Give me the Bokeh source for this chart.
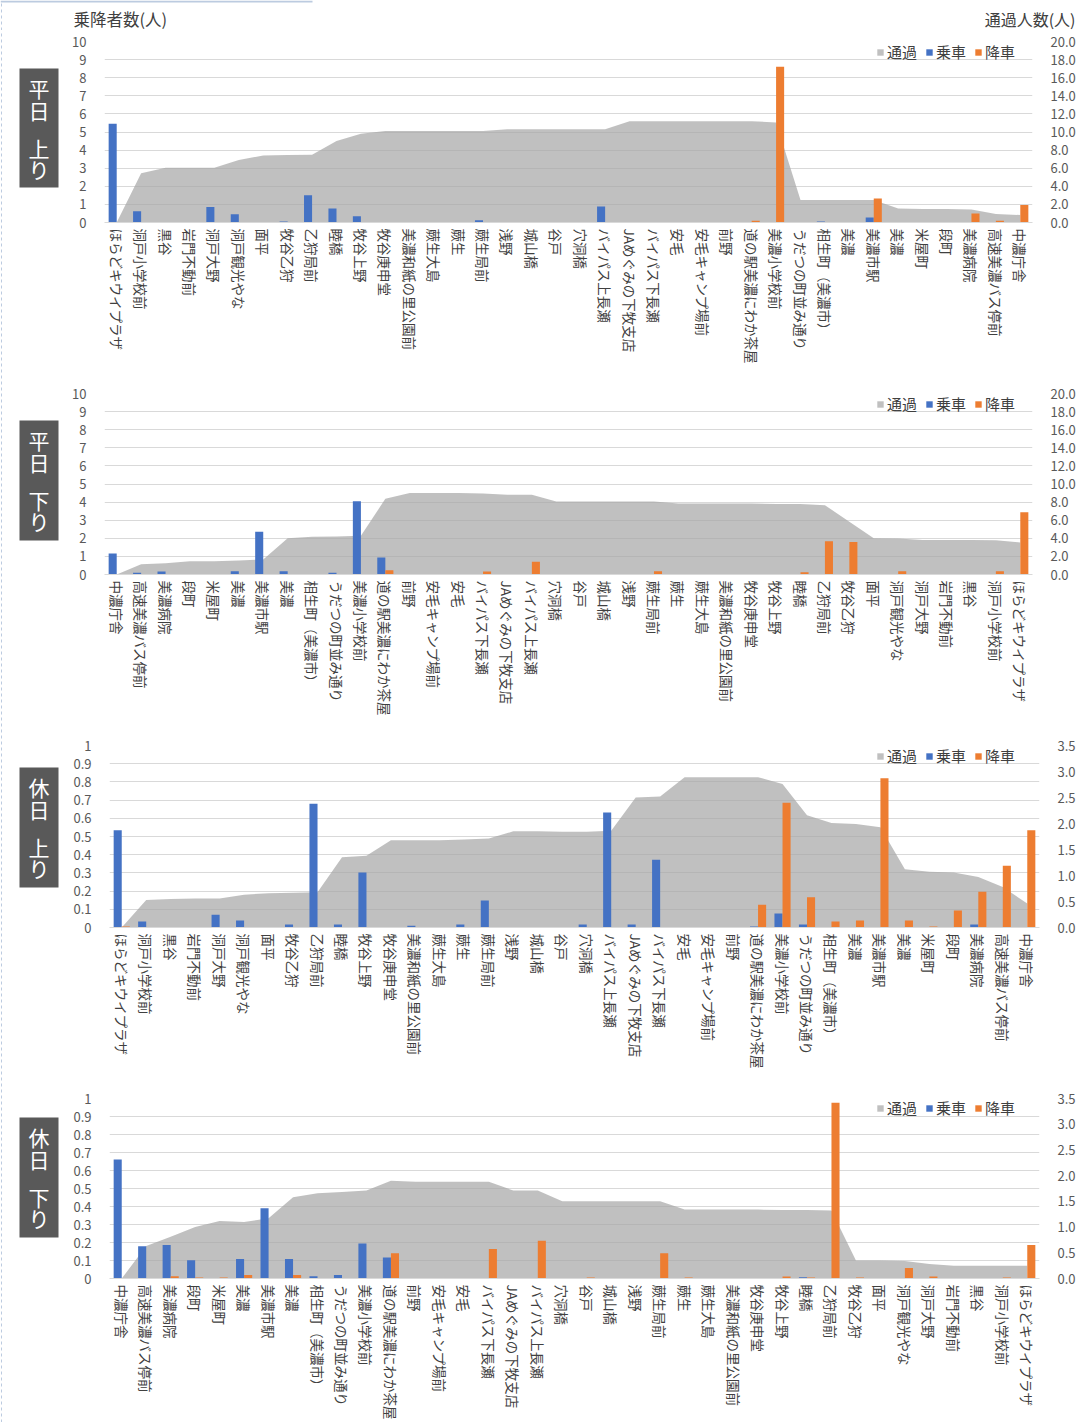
from bokeh.plotting import figure
from bokeh.models import (ColumnDataSource, Range1d, LinearAxis, FixedTicker,
                          NumeralTickFormatter, CustomJSTickFormatter, Legend, LegendItem)
from bokeh.layouts import column, row
from bokeh.transform import dodge
from bokeh.core.properties import value
from bokeh.embed import file_html
from bokeh.resources import INLINE

FONT = "Noto Sans CJK JP"
BLUE = "#4472C4"
ORANGE = "#ED7D31"
AREA = "#A5A5A5"
TEXT = "#404040"
TICK = "#595959"
GRID = "#D9D9D9"
TAG_BG = "#595959"
EDGE = "#BCCBE0"

# ---- stop names (route order) ----
stops_up = ["ほらどキウイプラザ", "洞戸小学校前", "黒谷", "岩門不動前", "洞戸大野", "洞戸観光やな",
            "面平", "牧谷乙狩", "乙狩局前", "睦橋", "牧谷上野", "牧谷庚申堂", "美濃和紙の里公園前",
            "蕨生大島", "蕨生", "蕨生局前", "浅野", "城山橋", "谷戸", "穴洞橋", "バイパス上長瀬",
            "JAめぐみの下牧支店", "バイパス下長瀬", "安毛", "安毛キャンプ場前", "前野",
            "道の駅美濃にわか茶屋", "美濃小学校前", "うだつの町並み通り", "相生町（美濃市）", "美濃",
            "美濃市駅", "美濃", "米屋町", "段町", "美濃病院", "高速美濃バス停前", "中濃庁舎"]
stops_down = ["中濃庁舎", "高速美濃バス停前", "美濃病院", "段町", "米屋町", "美濃", "美濃市駅", "美濃",
              "相生町（美濃市）", "うだつの町並み通り", "美濃小学校前", "道の駅美濃にわか茶屋", "前野",
              "安毛キャンプ場前", "安毛", "バイパス下長瀬", "JAめぐみの下牧支店", "バイパス上長瀬",
              "穴洞橋", "谷戸", "城山橋", "浅野", "蕨生局前", "蕨生", "蕨生大島", "美濃和紙の里公園前",
              "牧谷庚申堂", "牧谷上野", "睦橋", "乙狩局前", "牧谷乙狩", "面平", "洞戸観光やな",
              "洞戸大野", "岩門不動前", "黒谷", "洞戸小学校前", "ほらどキウイプラザ"]

# ---- weekday, upbound ----
wd_up_board = [5.45, 0.62, 0, 0, 0.85, 0.45, 0, 0.05, 1.5, 0.78, 0.35, 0, 0, 0, 0, 0.12, 0, 0, 0,
               0, 0.88, 0, 0, 0, 0, 0, 0, 0, 0.03, 0.05, 0, 0.27, 0, 0, 0, 0, 0, 0]
wd_up_alight = [0, 0, 0, 0, 0, 0, 0, 0, 0, 0, 0, 0, 0, 0, 0, 0, 0, 0, 0, 0, 0, 0, 0, 0, 0, 0,
                0.09, 8.6, 0, 0, 0.03, 1.33, 0.03, 0, 0.03, 0.5, 0.09, 0.96]
wd_up_pass = [0, 5.45, 6.05, 6.05, 6.05, 6.9, 7.4, 7.45, 7.5, 9.0, 9.8, 10.1, 10.1, 10.1, 10.1,
              10.1, 10.3, 10.3, 10.3, 10.3, 10.3, 11.2, 11.2, 11.2, 11.2, 11.2, 11.2, 11.05,
              2.5, 2.5, 2.5, 2.5, 1.55, 1.5, 1.5, 1.45, 0.93, 0.83]

# ---- weekday, downbound ----
wd_dn_board = [1.16, 0.09, 0.17, 0.01, 0, 0.18, 2.36, 0.18, 0, 0.09, 4.05, 0.94, 0.01, 0, 0, 0,
               0, 0, 0, 0, 0, 0, 0, 0, 0, 0, 0, 0, 0, 0, 0, 0, 0, 0, 0, 0, 0, 0]
wd_dn_alight = [0, 0, 0, 0.01, 0.01, 0.02, 0.02, 0.02, 0.01, 0.01, 0.02, 0.24, 0, 0, 0, 0.17,
                0.02, 0.7, 0, 0.02, 0, 0, 0.18, 0.01, 0, 0, 0, 0.02, 0.13, 1.84, 1.79, 0.03,
                0.18, 0.03, 0, 0, 0.18, 3.44]
wd_dn_pass = [0, 1.14, 1.25, 1.47, 1.47, 1.55, 1.66, 4.01, 4.16, 4.2, 4.27, 8.36, 9.0, 9.0, 9.0,
              8.95, 8.8, 8.8, 8.07, 8.07, 8.07, 8.07, 8.07, 7.85, 7.85, 7.85, 7.85, 7.8, 7.78,
              7.66, 5.82, 4.01, 3.98, 3.8, 3.8, 3.8, 3.78, 3.54]

# ---- holiday, upbound ----
hd_up_board = [0.534, 0.033, 0, 0, 0.07, 0.039, 0, 0.017, 0.68, 0.017, 0.302, 0, 0.009, 0,
               0.017, 0.149, 0, 0, 0, 0.017, 0.632, 0.017, 0.372, 0, 0, 0, 0.005, 0.077,
               0.017, 0, 0, 0, 0, 0, 0, 0.017, 0, 0]
hd_up_alight = [0.005, 0, 0, 0, 0, 0, 0, 0, 0, 0, 0, 0, 0, 0, 0, 0, 0, 0, 0, 0, 0, 0, 0, 0, 0,
                0, 0.125, 0.685, 0.166, 0.033, 0.039, 0.82, 0.039, 0.005, 0.094, 0.197,
                0.339, 0.534]
hd_up_pass = [0, 0.53, 0.55, 0.56, 0.56, 0.63, 0.66, 0.67, 0.68, 1.35, 1.38, 1.68, 1.68, 1.68,
              1.69, 1.71, 1.85, 1.85, 1.84, 1.84, 1.86, 2.5, 2.52, 2.89, 2.89, 2.89, 2.89,
              2.76, 2.16, 2.01, 1.99, 1.93, 1.12, 1.07, 1.06, 0.97, 0.78, 0.46]

# ---- holiday, downbound ----
hd_dn_board = [0.661, 0.179, 0.186, 0.101, 0, 0.109, 0.39, 0.109, 0.013, 0.02, 0.195, 0.116,
               0, 0, 0, 0, 0, 0, 0, 0, 0, 0, 0, 0, 0, 0, 0, 0, 0.007, 0, 0, 0, 0, 0, 0, 0, 0, 0]
hd_dn_alight = [0, 0, 0.013, 0.006, 0.006, 0.02, 0, 0.02, 0, 0, 0, 0.14, 0, 0, 0, 0.164, 0,
                0.21, 0, 0.005, 0, 0, 0.14, 0.005, 0, 0, 0, 0.011, 0.005, 0.976, 0.005, 0,
                0.059, 0.011, 0, 0, 0.005, 0.186]
hd_dn_pass = [0, 0.63, 0.81, 1.0, 1.12, 1.1, 1.17, 1.58, 1.66, 1.68, 1.71, 1.9, 1.88, 1.88,
              1.88, 1.88, 1.71, 1.71, 1.5, 1.5, 1.5, 1.5, 1.5, 1.34, 1.34, 1.34, 1.34, 1.33,
              1.33, 1.32, 0.35, 0.35, 0.34, 0.28, 0.25, 0.25, 0.25, 0.25]

# ---- axis ticks ----
wd_left_ticks = [0, 1, 2, 3, 4, 5, 6, 7, 8, 9, 10]
wd_right_ticks = [0, 2, 4, 6, 8, 10, 12, 14, 16, 18, 20]
hd_left_ticks = [0, 0.1, 0.2, 0.3, 0.4, 0.5, 0.6, 0.7, 0.8, 0.9, 1.0]
hd_right_ticks = [0, 0.5, 1.0, 1.5, 2.0, 2.5, 3.0, 3.5]

series_names = ["通過", "乗車", "降車"]
left_title = "乗降者数(人)"
right_title = "通過人数(人)"

PAGE_W = 1078
PAGE_H = 1422
SIDE_W = 60
HEADER_H = 30

# per panel: border sizes, frame height, tag box extent (page y)
panels = [
    dict(tag=("平", "日", "上", "り"), stops=stops_up, board=wd_up_board, alight=wd_up_alight,
         passing=wd_up_pass, lt=wd_left_ticks, rt=wd_right_ticks, lfmt="0",
         top=11, fh=181, bottom=152, left=44, right=40, box=(68, 187)),
    dict(tag=("平", "日", "下", "り"), stops=stops_down, board=wd_dn_board, alight=wd_dn_alight,
         passing=wd_dn_pass, lt=wd_left_ticks, rt=wd_right_ticks, lfmt="0",
         top=19, fh=181, bottom=152, left=44, right=40, box=(420, 540)),
    dict(tag=("休", "日", "上", "り"), stops=stops_up, board=hd_up_board, alight=hd_up_alight,
         passing=hd_up_pass, lt=hd_left_ticks, rt=hd_right_ticks, lfmt="0.[0]",
         top=19, fh=182, bottom=149, left=49, right=31, box=(767, 887)),
    dict(tag=("休", "日", "下", "り"), stops=stops_down, board=hd_dn_board, alight=hd_dn_alight,
         passing=hd_dn_pass, lt=hd_left_ticks, rt=hd_right_ticks, lfmt="0.[0]",
         top=22, fh=181, bottom=143, left=49, right=31, box=(1117, 1237)),
]


def blank_fig(w, h):
    f = figure(width=w, height=h, x_range=Range1d(0, w), y_range=Range1d(0, h),
               x_axis_type=None, y_axis_type=None, output_backend="svg",
               toolbar_location=None, min_border=0)
    f.outline_line_color = None
    return f


def make_header():
    f = blank_fig(PAGE_W, HEADER_H)
    f.segment(x0=[0], y0=[HEADER_H - 1], x1=[312], y1=[HEADER_H - 1],
              line_color=EDGE, line_width=2)
    f.segment(x0=[1], y0=[0], x1=[1], y1=[HEADER_H], line_color=EDGE, line_width=1,
              line_dash="3 3")
    f.text(x=[73], y=[HEADER_H - 18], text=[left_title], text_font=value(FONT),
           text_font_size="16.5px", text_color=TEXT, text_baseline="middle",
           text_align="left")
    f.text(x=[PAGE_W - 3], y=[HEADER_H - 18], text=[right_title], text_font=value(FONT),
           text_font_size="16px", text_color=TEXT, text_baseline="middle",
           text_align="right")
    return f


def make_side():
    # left strip holding the four dark caption boxes (page y measured from the top)
    h = PAGE_H - HEADER_H
    f = blank_fig(SIDE_W, h)
    f.segment(x0=[1], y0=[0], x1=[1], y1=[h], line_color=EDGE, line_width=1,
              line_dash="3 3")
    for cfg in panels:
        top_y, bot_y = [v - HEADER_H for v in cfg["box"]]
        f.quad(left=[19], right=[58], top=[h - top_y], bottom=[h - bot_y],
               fill_color=TAG_BG, line_color=None)
        ys = [h - (top_y + off) for off in (19, 41, 79, 100)]
        f.text(x=[38.5] * 4, y=ys, text=list(cfg["tag"]), text_font=value(FONT),
               text_font_size="21px", text_color="white", text_align="center",
               text_baseline="middle")
    return f


def make_panel(cfg):
    n = len(cfg["stops"])
    lmax = cfg["lt"][-1]
    rmax = cfg["rt"][-1]
    height = cfg["top"] + cfg["fh"] + cfg["bottom"]
    p = figure(width=PAGE_W - SIDE_W, height=height, x_range=Range1d(-0.5, n - 0.5),
               y_range=Range1d(0, lmax), output_backend="svg", toolbar_location=None,
               min_border_left=cfg["left"], min_border_right=cfg["right"],
               min_border_top=cfg["top"], min_border_bottom=cfg["bottom"])
    p.outline_line_color = None
    p.extra_y_ranges = {"pass": Range1d(0, rmax)}

    src = ColumnDataSource(dict(x=list(range(n)), board=cfg["board"],
                                alight=cfg["alight"], passing=cfg["passing"]))

    area = p.varea(x="x", y1=0, y2="passing", source=src, y_range_name="pass",
                   fill_color=AREA, fill_alpha=0.7)
    b1 = p.vbar(x=dodge("x", -0.165, range=p.x_range), top="board", width=0.33,
                source=src, fill_color=BLUE, line_color=None)
    b2 = p.vbar(x=dodge("x", 0.165, range=p.x_range), top="alight", width=0.33,
                source=src, fill_color=ORANGE, line_color=None)

    lticker = FixedTicker(ticks=cfg["lt"])
    p.xgrid.grid_line_color = None
    p.ygrid.ticker = lticker
    p.ygrid.grid_line_color = GRID
    p.ygrid.grid_line_width = 1

    ya = p.yaxis[0]
    ya.ticker = lticker
    ya.formatter = NumeralTickFormatter(format=cfg["lfmt"])
    ya.axis_line_color = None
    ya.major_tick_line_color = None
    ya.minor_tick_line_color = None
    ya.major_label_standoff = 12
    ya.major_label_text_font = FONT
    ya.major_label_text_font_size = "13px"
    ya.major_label_text_color = TICK

    ra = LinearAxis(y_range_name="pass", ticker=FixedTicker(ticks=cfg["rt"]),
                    formatter=NumeralTickFormatter(format="0.0"))
    ra.axis_line_color = None
    ra.major_tick_line_color = None
    ra.minor_tick_line_color = None
    ra.major_label_standoff = 12
    ra.major_label_text_font = FONT
    ra.major_label_text_font_size = "13px"
    ra.major_label_text_color = TICK
    p.add_layout(ra, "right")

    xa = p.xaxis[0]
    xa.ticker = FixedTicker(ticks=list(range(n)))
    xa.formatter = CustomJSTickFormatter(
        args=dict(names=cfg["stops"]),
        code="const s = names[Math.round(tick)]; return s === undefined ? '' : s;")
    xa.major_label_orientation = "vertical"
    xa.axis_line_color = GRID
    xa.major_tick_line_color = None
    xa.minor_tick_line_color = None
    xa.major_tick_out = 0
    xa.major_tick_in = 0
    xa.major_label_standoff = 6
    xa.major_label_text_font = FONT
    xa.major_label_text_font_size = "13.5px"
    xa.major_label_text_color = TEXT

    # legend sits just under the top gridline, right side of the frame
    legend = Legend(items=[LegendItem(label=series_names[0], renderers=[area]),
                           LegendItem(label=series_names[1], renderers=[b1]),
                           LegendItem(label=series_names[2], renderers=[b2])],
                    orientation="horizontal",
                    location=(876 - SIDE_W - cfg["left"], cfg["fh"] - 21),
                    background_fill_alpha=0, border_line_color=None, padding=0, margin=0,
                    spacing=8, glyph_width=8, glyph_height=8, label_standoff=3,
                    label_height=18, label_text_font=FONT, label_text_font_size="15px",
                    label_text_color=TEXT)
    p.add_layout(legend)
    return p


# each panel in its own row so the frames keep their own borders
charts = column(*[row(make_panel(cfg), spacing=0) for cfg in panels], spacing=0)
page = column(make_header(), row(make_side(), charts, spacing=0), spacing=0)

open("out.html", "w").write(file_html(page, INLINE))
